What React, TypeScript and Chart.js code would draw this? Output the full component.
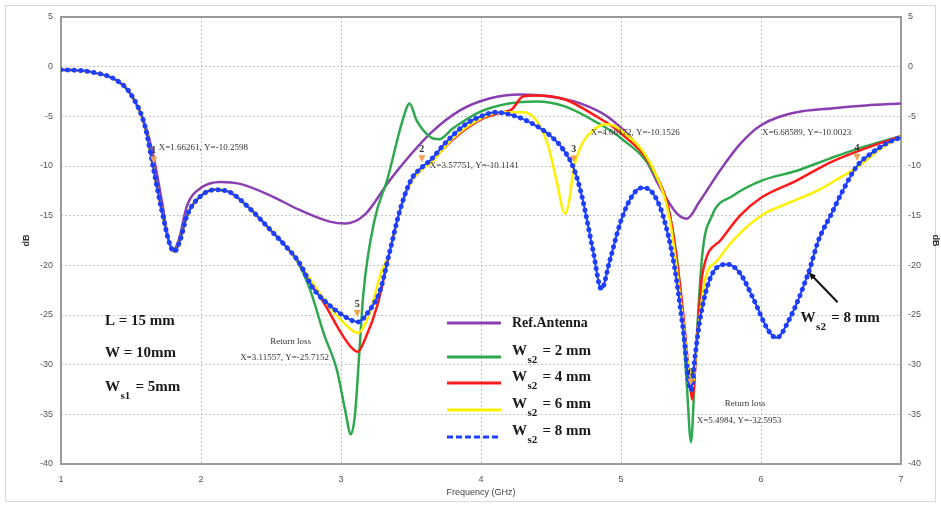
import React, { useEffect, useRef } from "react";
import { Chart, registerables } from "chart.js";
Chart.register(...registerables);

// ---- data (GHz, dB) ----
const refFreq = [1.0, 1.2, 1.4, 1.5, 1.6, 1.66, 1.72, 1.77, 1.8, 1.84, 1.9, 2.0, 2.14, 2.28, 2.5, 2.7, 2.92, 3.03, 3.17, 3.35, 3.64, 3.85, 4.06, 4.28, 4.49, 4.71, 4.92, 5.14, 5.28, 5.4, 5.47, 5.56, 5.71, 5.85, 6.0, 6.25, 6.5, 6.75, 7.0];
const refDb = [-0.3, -0.5, -1.4, -2.8, -5.8, -9.0, -13.5, -17.5, -18.5, -17.5, -14, -12.2, -11.6, -11.8, -13, -14.4, -15.6, -15.8, -14.9, -11.4, -6.7, -4.4, -3.2, -2.8, -3.0, -3.7, -5.2, -8.4, -12.2, -14.8, -15.3, -13.6, -10.4, -7.8, -5.9, -4.6, -4.2, -3.9, -3.7];

const ws2Freq = [1.0, 1.2, 1.4, 1.5, 1.6, 1.66, 1.72, 1.78, 1.81, 1.85, 1.9, 2.0, 2.1, 2.2, 2.35, 2.5, 2.6, 2.7, 2.78, 2.88, 2.97, 3.03, 3.07, 3.1, 3.13, 3.16, 3.24, 3.33, 3.44, 3.49, 3.54, 3.64, 3.7, 3.8, 4.0, 4.2, 4.4, 4.6, 4.8, 5.0, 5.23, 5.35, 5.42, 5.47, 5.5, 5.53, 5.58, 5.65, 5.8, 6.0, 6.25, 6.5, 6.75, 7.0];
const ws2Db = [-0.3, -0.5, -1.4, -2.8, -6.0, -10.26, -14.5, -18, -18.6, -17.5, -15, -13, -12.4, -12.6, -14.3, -16.5, -18, -19.9, -22.5, -27, -30.5, -34.6, -37, -35, -29, -22.8, -15.4, -11.4, -5.4, -3.7, -5.4, -7.1, -7.3, -6.2, -4.5, -3.7, -3.5, -4.0, -5.4, -7.2, -10.6, -15, -22, -32, -37.8, -30, -19, -15, -13, -11.5, -10.5, -9.2, -8, -7];

const ws4Freq = [1.0, 1.2, 1.4, 1.5, 1.6, 1.66, 1.72, 1.78, 1.81, 1.85, 1.9, 2.0, 2.1, 2.2, 2.35, 2.5, 2.6, 2.7, 2.8, 2.9, 3.0, 3.07, 3.12, 3.17, 3.26, 3.35, 3.42, 3.5, 3.58, 3.64, 3.8, 4.0, 4.15, 4.22, 4.3, 4.4, 4.6, 4.8, 5.0, 5.23, 5.35, 5.43, 5.48, 5.51, 5.54, 5.58, 5.71, 5.85, 6.0, 6.25, 6.5, 6.75, 7.0];
const ws4Db = [-0.3, -0.5, -1.4, -2.8, -6.0, -10.26, -14.5, -18, -18.6, -17.5, -15, -13, -12.4, -12.6, -14.3, -16.5, -18, -19.7, -22, -24.3, -26.8, -28.2, -28.7, -27.5, -24, -18.5, -14.5, -11.6, -10.3, -9.6, -7.3, -5.3, -4.6, -4.3, -3.0, -2.9, -3.3, -4.8, -6.7, -10.4, -15, -23, -30, -33.5, -28, -21, -17.5, -15, -13.2, -11.5, -9.6, -8.2, -7];

const ws6Freq = [1.0, 1.2, 1.4, 1.5, 1.6, 1.66, 1.72, 1.78, 1.81, 1.85, 1.9, 2.0, 2.1, 2.2, 2.35, 2.5, 2.6, 2.7, 2.8, 2.9, 3.0, 3.12, 3.2, 3.28, 3.35, 3.42, 3.5, 3.58, 3.64, 3.8, 4.0, 4.15, 4.3, 4.4, 4.48, 4.54, 4.6, 4.63, 4.66, 4.71, 4.8, 4.9, 5.0, 5.23, 5.35, 5.43, 5.48, 5.51, 5.54, 5.6, 5.69, 5.8, 6.0, 6.2, 6.4, 6.55, 6.7, 6.85, 7.0];
const ws6Db = [-0.3, -0.5, -1.4, -2.8, -6.0, -10.26, -14.5, -18, -18.6, -17.5, -15, -13, -12.4, -12.6, -14.3, -16.5, -18, -19.7, -21.8, -23.8, -25.5, -26.8, -25, -21, -18.5, -14.5, -11.6, -10.3, -9.7, -7.2, -5.2, -4.6, -4.6, -5.5, -8, -11.5, -14.8, -13.5, -10.4, -8.1, -6.4, -5.8, -6.4, -10.3, -15.5, -24, -30, -32.2, -28, -21.5, -19.5, -17.5, -15, -13.7, -12.5, -11.3, -10, -8.3, -7];

const ws8Freq = [1.0, 1.2, 1.4, 1.5, 1.6, 1.66, 1.72, 1.78, 1.81, 1.85, 1.9, 2.0, 2.1, 2.2, 2.35, 2.5, 2.6, 2.7, 2.8, 2.9, 3.0, 3.12, 3.2, 3.28, 3.35, 3.42, 3.5, 3.58, 3.64, 3.75, 3.9, 4.0, 4.1, 4.25, 4.4, 4.5, 4.58, 4.66, 4.72, 4.8, 4.86, 4.92, 5.0, 5.08, 5.15, 5.22, 5.3, 5.38, 5.44, 5.5, 5.53, 5.57, 5.64, 5.76, 5.85, 5.95, 6.05, 6.11, 6.2, 6.34, 6.41, 6.5, 6.58, 6.686, 6.8, 6.9, 7.0];
const ws8Db = [-0.3, -0.5, -1.4, -2.8, -6.0, -10.26, -14.5, -18, -18.6, -17.5, -15, -13, -12.4, -12.6, -14.3, -16.5, -18, -19.7, -22.3, -23.8, -24.9, -25.7, -24.6, -22.5, -18.5, -14.5, -11.4, -10.1, -9.4, -7.6, -5.7, -5.0, -4.6, -5, -6, -7, -8.2, -10.15, -13, -18.5, -22.4, -19.5, -15.5, -13, -12.2, -12.6, -15, -20, -26, -32.6, -29, -25, -21.2, -19.9, -20.8, -23.5, -26.5, -27.3, -25.5, -20.7, -17.5, -14.9, -12.6, -10.0, -8.6, -7.7, -7.1];

const seriesNames = ["Ref.Antenna", "2 mm", "4 mm", "6 mm", "8 mm"];
const xTicks = [1, 2, 3, 4, 5, 6, 7];
const yTicks = [5, 0, -5, -10, -15, -20, -25, -30, -35, -40];

const markerNames = ["1", "2", "3", "4", "5", "6"];
const markerFreq = [1.66261, 3.57751, 4.66172, 6.68589, 3.11557, 5.4984];
const markerDb = [-10.2598, -10.1141, -10.1526, -10.0023, -25.7152, -32.5953];
const markerText = [
  "X=1.66261, Y=-10.2598",
  "X=3.57751, Y=-10.1141",
  "X=4.66172, Y=-10.1526",
  "X=6.68589, Y=-10.0023",
  "X=3.11557, Y=-25.7152",
  "X=5.4984, Y=-32.5953",
];
const markerNote = ["", "", "", "", "Return loss", "Return loss"];

const arrowFreq = 6.34;
const arrowDb = -20.7;

// ---- styles ----
const COLORS = {
  ref: "#8a3fb0",
  g: "#2fa84f",
  r: "#ff1a1a",
  y: "#fff000",
  b: "#1f3fff",
};
const SERIF = '"Liberation Serif", "Times New Roman", serif';
const SANS = '"Liberation Sans", Arial, sans-serif';

const pts = (f: number[], d: number[]) => f.map((x, i) => ({ x, y: d[i] }));

function drawSub(ctx: CanvasRenderingContext2D, x: number, y: number, main: string, sub: string, rest: string, size: number) {
  ctx.font = `bold ${size}px ${SERIF}`;
  ctx.fillText(main, x, y);
  const w = ctx.measureText(main).width;
  const ss = Math.round(size * 0.7);
  ctx.font = `bold ${ss}px ${SERIF}`;
  ctx.fillText(sub, x + w + 0.5, y + size * 0.5);
  const sw = ctx.measureText(sub).width;
  ctx.font = `bold ${size}px ${SERIF}`;
  ctx.fillText(rest, x + w + sw + 2, y);
}

// pixel offsets of annotation texts relative to their markers
const notePos = [
  { t: [5, -21] },
  { t: [8, -1] },
  { t: [17, -35] },
  { t: [-95, -33] },
  { t: [-117, 36], n: [-87, 20] },
  { t: [6, 30], n: [34, 13] },
];

const overlay = {
  id: "overlay",
  beforeDraw(chart: any) {
    const { ctx, width, height } = chart;
    ctx.save();
    ctx.fillStyle = "#ffffff";
    ctx.fillRect(0, 0, width, height);
    ctx.strokeStyle = "#d9d9d9";
    ctx.lineWidth = 1;
    ctx.strokeRect(5.5, 5.5, width - 11, height - 11);
    ctx.restore();
  },
  beforeDatasetsDraw(chart: any) {
    const { ctx, chartArea: a } = chart;
    ctx.save();
    ctx.strokeStyle = "#9a9a9a";
    ctx.lineWidth = 2;
    ctx.strokeRect(a.left, a.top, a.right - a.left, a.bottom - a.top);
    ctx.restore();
  },
  afterDatasetsDraw(chart: any) {
    const { ctx } = chart;
    const xs = chart.scales.x;
    const ys = chart.scales.y;
    ctx.save();
    // markers
    markerNames.forEach((name, i) => {
      const mx = xs.getPixelForValue(markerFreq[i]);
      const my = ys.getPixelForValue(markerDb[i]);
      ctx.fillStyle = "#f4a24f";
      ctx.beginPath();
      ctx.moveTo(mx - 3.5, my - 12);
      ctx.lineTo(mx + 3.5, my - 12);
      ctx.lineTo(mx, my - 5);
      ctx.closePath();
      ctx.fill();
      ctx.fillStyle = "#333";
      ctx.font = `bold 10px ${SERIF}`;
      ctx.textAlign = "center";
      ctx.textBaseline = "middle";
      ctx.fillText(name, mx, my - 18);
      ctx.textAlign = "left";
      ctx.font = `9px ${SERIF}`;
      const p = notePos[i];
      ctx.fillText(markerText[i], mx + p.t[0], my + p.t[1]);
      if (markerNote[i] && p.n) ctx.fillText(markerNote[i], mx + p.n[0], my + p.n[1]);
    });

    ctx.textBaseline = "alphabetic";
    ctx.textAlign = "left";
    ctx.fillStyle = "#1a1a1a";

    // legend
    const lx0 = 447, lx1 = 501, tx = 512;
    const rows = [
      { y: 323, c: COLORS.ref, dash: [] as number[] },
      { y: 357, c: COLORS.g, dash: [] },
      { y: 383, c: COLORS.r, dash: [] },
      { y: 410, c: COLORS.y, dash: [] },
      { y: 437, c: COLORS.b, dash: [6, 3] },
    ];
    rows.forEach((r, i) => {
      ctx.strokeStyle = r.c;
      ctx.lineWidth = 3;
      ctx.setLineDash(r.dash);
      ctx.beginPath();
      ctx.moveTo(lx0, r.y);
      ctx.lineTo(lx1, r.y);
      ctx.stroke();
      ctx.setLineDash([]);
      ctx.fillStyle = "#1a1a1a";
      if (i === 0) {
        ctx.font = `bold 14px ${SERIF}`;
        ctx.fillText(seriesNames[0], tx, r.y + 4);
      } else {
        drawSub(ctx, tx, r.y - 2, "W", "s2", " = " + seriesNames[i], 15);
      }
    });

    // left parameter block
    ctx.font = `bold 15px ${SERIF}`;
    ctx.fillText("L = 15 mm", 105, 325);
    ctx.fillText("W = 10mm", 105, 357);
    drawSub(ctx, 105, 391, "W", "s1", " = 5mm", 15);

    // arrow to Ws2 = 8 mm curve
    const ax = xs.getPixelForValue(arrowFreq);
    const ay = ys.getPixelForValue(arrowDb);
    const bx = ax + 29, by = ay + 30;
    ctx.strokeStyle = "#111";
    ctx.lineWidth = 2;
    ctx.beginPath();
    ctx.moveTo(bx, by);
    ctx.lineTo(ax + 3, ay + 3);
    ctx.stroke();
    const ang = Math.atan2(ay - by, ax - bx);
    ctx.fillStyle = "#111";
    ctx.beginPath();
    ctx.moveTo(ax, ay);
    ctx.lineTo(ax - 8 * Math.cos(ang - 0.4), ay - 8 * Math.sin(ang - 0.4));
    ctx.lineTo(ax - 8 * Math.cos(ang + 0.4), ay - 8 * Math.sin(ang + 0.4));
    ctx.closePath();
    ctx.fill();
    ctx.fillStyle = "#1a1a1a";
    drawSub(ctx, ax - 8, ay + 50, "W", "s2", " = 8 mm", 15);
    ctx.restore();
  },
};

export default function App() {
  const ref = useRef<HTMLCanvasElement>(null);
  useEffect(() => {
    if (!ref.current) return;
    const line = (data: any, color: string, extra: any = {}) => ({
      data,
      borderColor: color,
      backgroundColor: color,
      borderWidth: 2.5,
      pointRadius: 0,
      fill: false,
      cubicInterpolationMode: "monotone",
      ...extra,
    });
    const tickFont = { family: SANS, size: 9 };
    const chart = new Chart(ref.current, {
      type: "line",
      data: {
        datasets: [
          line(pts(ws8Freq, ws8Db), COLORS.b, { borderWidth: 5, borderDash: [0.1, 6.5], borderCapStyle: "round", label: seriesNames[4] }),
          line(pts(ws8Freq, ws8Db), COLORS.b, { borderWidth: 2, label: seriesNames[4] }),
          line(pts(ws6Freq, ws6Db), COLORS.y, { label: seriesNames[3] }),
          line(pts(ws4Freq, ws4Db), COLORS.r, { label: seriesNames[2] }),
          line(pts(ws2Freq, ws2Db), COLORS.g, { label: seriesNames[1] }),
          line(pts(refFreq, refDb), COLORS.ref, { label: seriesNames[0] }),
        ],
      },
      options: {
        responsive: false,
        animation: false,
        devicePixelRatio: 1,
        layout: { padding: { top: 17, left: 0, right: 0, bottom: 0 } },
        plugins: { legend: { display: false }, tooltip: { enabled: false } },
        scales: {
          x: {
            type: "linear",
            min: xTicks[0],
            max: xTicks[xTicks.length - 1],
            afterBuildTicks: (s: any) => { s.ticks = xTicks.map((v) => ({ value: v })); },
            afterFit: (s: any) => { s.height = 43; },
            ticks: { font: tickFont, color: "#555", padding: 10.5, autoSkip: false },
            grid: { color: "#c4c4c4", lineWidth: 1, drawTicks: false, borderDash: [2, 2] },
            border: { display: false, dash: [2, 2] },
            title: { display: true, text: "Frequency (GHz)", font: { family: SANS, size: 9 }, color: "#444", padding: { top: 0, bottom: 8.6 } },
          },
          y: {
            type: "linear",
            position: "left",
            min: yTicks[yTicks.length - 1],
            max: yTicks[0],
            afterBuildTicks: (s: any) => { s.ticks = yTicks.map((v) => ({ value: v })); },
            afterFit: (s: any) => { s.width = 61; },
            ticks: { font: tickFont, color: "#555", padding: 8 },
            grid: { color: "#c4c4c4", lineWidth: 1, drawTicks: false, borderDash: [2, 2] },
            border: { display: false, dash: [2, 2] },
            title: { display: true, text: "dB", font: { family: SANS, size: 9, weight: "bold" }, color: "#333", padding: { top: 21.5, bottom: 0 } },
          },
          y2: {
            type: "linear",
            position: "right",
            min: yTicks[yTicks.length - 1],
            max: yTicks[0],
            afterBuildTicks: (s: any) => { s.ticks = yTicks.map((v) => ({ value: v })); },
            afterFit: (s: any) => { s.width = 40; },
            ticks: { font: tickFont, color: "#555", padding: 7 },
            grid: { display: false, drawTicks: false },
            border: { display: false },
            title: { display: true, text: "dB", font: { family: SANS, size: 9, weight: "bold" }, color: "#333", padding: { top: 0.5, bottom: 0 } },
          },
        },
      },
      plugins: [overlay],
    } as any);
    return () => chart.destroy();
  }, []);
  return (
    <div style={{ position: "fixed", left: 0, top: 0, width: 941, height: 507, background: "#fff" }}>
      <canvas ref={ref} width={941} height={507} style={{ width: 941, height: 507, display: "block" }} />
    </div>
  );
}
